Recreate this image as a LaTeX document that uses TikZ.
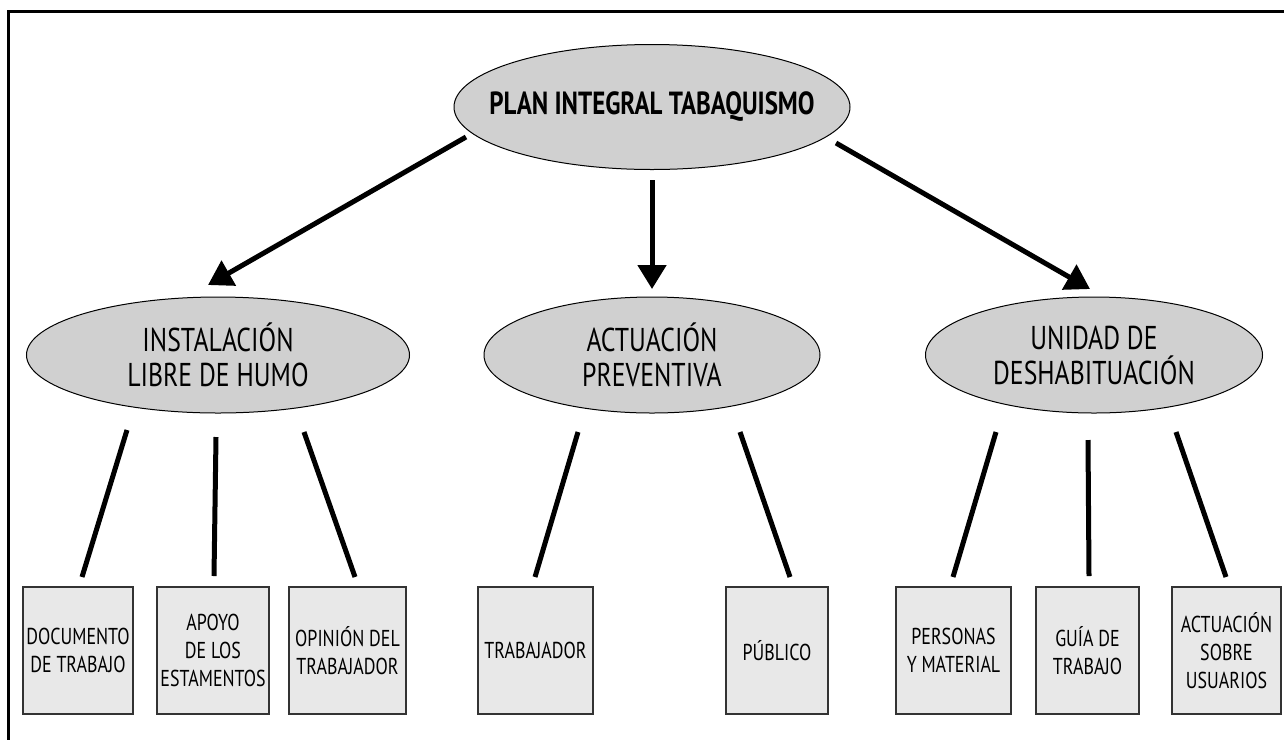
\documentclass[tikz,border=0pt]{standalone}
\usepackage{fontspec}
\setmainfont{PT Sans}[FakeStretch=0.78]
\usetikzlibrary{arrows.meta,shapes.geometric}
\definecolor{ellfill}{RGB}{208,208,208}
\definecolor{boxfill}{RGB}{232,232,232}
\tikzset{
  topell/.style={ellipse, draw=black, line width=1pt, fill=ellfill, inner sep=0pt,
    minimum width=396pt, minimum height=125pt},
  toptext/.style={font=\fontsize{32}{36}\selectfont\bfseries, inner sep=0pt},
  midell/.style={ellipse, draw=black, line width=1pt, fill=ellfill, inner sep=0pt,
    minimum height=116pt, align=center, font=\fontsize{33}{35}\selectfont},
  leaf/.style={rectangle, draw=black!80, line width=1.5pt, fill=boxfill, inner sep=0pt,
    minimum height=127pt, align=center, font=\fontsize{23}{28}\selectfont},
  conn/.style={line width=5pt, line cap=butt},
  arr/.style={line width=5pt, -{Triangle[length=24pt,width=28pt]}},
}
\begin{document}
\begin{tikzpicture}[x=1pt,y=-1pt]
\useasboundingbox (0,0) rectangle (1284,740);
\draw[line width=3pt] (1284,11) -- (8,11) -- (8,740);

\node[topell] (top) at (652,107) {};
\node[toptext] (toplabel) at (top.center) {PLAN INTEGRAL TABAQUISMO};

\node[midell, minimum width=383pt] (e1) at (218,355) {INSTALACIÓN\\LIBRE DE HUMO};
\node[midell, minimum width=336pt] (e2) at (652,355) {ACTUACIÓN\\PREVENTIVA};
\node[midell, minimum width=337pt] (e3) at (1094,355) {UNIDAD DE\\DESHABITUACIÓN};

\node[leaf, minimum width=110pt] (b1) at (78,650.5) {DOCUMENTO\\DE TRABAJO};
\node[leaf, minimum width=112pt] (b2) at (213,650.5) {APOYO\\DE LOS\\ESTAMENTOS};
\node[leaf, minimum width=117pt] (b3) at (347.5,650.5) {OPINIÓN DEL\\TRABAJADOR};
\node[leaf, minimum width=115pt] (b4) at (535.5,650.5) {TRABAJADOR};
\node[leaf, minimum width=102pt] (b5) at (777,650.5) {PÚBLICO};
\node[leaf, minimum width=115pt] (b6) at (953.5,650.5) {PERSONAS\\Y MATERIAL};
\node[leaf, minimum width=103pt] (b7) at (1087.5,650.5) {GUÍA DE\\TRABAJO};
\node[leaf, minimum width=109pt] (b8) at (1226.5,650.5) {ACTUACIÓN\\SOBRE\\USUARIOS};

% arrows from the title
\coordinate (a1s) at (466,137); \coordinate (a1e) at (208,285);
\coordinate (a2s) at (652,180); \coordinate (a2e) at (652,289);
\coordinate (a3s) at (836,143); \coordinate (a3e) at (1090,289);
\draw[arr] (a1s) -- (a1e);
\draw[arr] (a2s) -- (a2e);
\draw[arr] (a3s) -- (a3e);

% lines to the boxes
\coordinate (l1s) at (127,430); \coordinate (l1e) at (82,577);
\coordinate (l2s) at (216,437); \coordinate (l2e) at (214,576);
\coordinate (l3s) at (304,432); \coordinate (l3e) at (355,577);
\coordinate (l4s) at (578,432); \coordinate (l4e) at (535,577);
\coordinate (l5s) at (740,432); \coordinate (l5e) at (790,577);
\coordinate (l6s) at (996,432); \coordinate (l6e) at (953,577);
\coordinate (l7s) at (1088,440); \coordinate (l7e) at (1089,576);
\coordinate (l8s) at (1176,432); \coordinate (l8e) at (1226,577);
\foreach \i in {1,...,8} { \draw[conn] (l\i s) -- (l\i e); }
\end{tikzpicture}
\end{document}
